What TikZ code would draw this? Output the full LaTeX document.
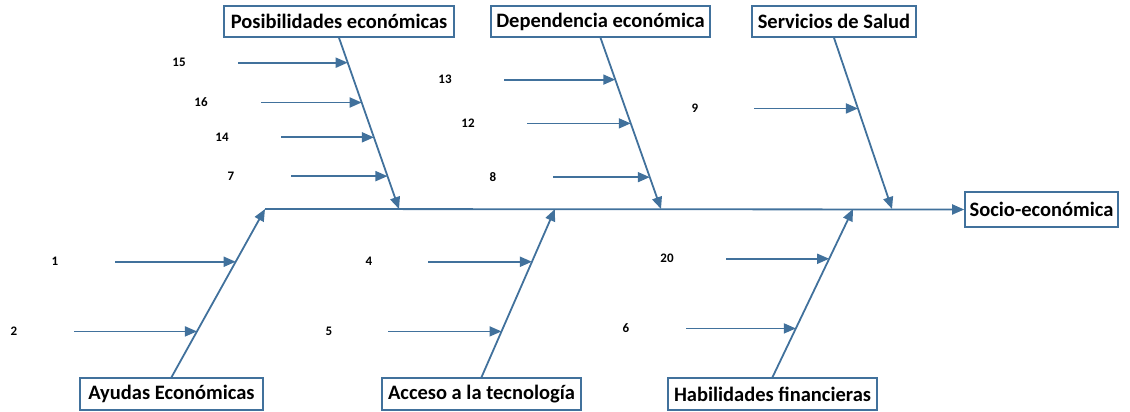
\documentclass[tikz,border=0pt]{standalone}
\usepackage{fontspec}
\setmainfont{Carlito}
\usetikzlibrary{arrows.meta,calc}
\definecolor{fbblue}{RGB}{65,113,156}
\tikzset{
  catbox/.style={draw=fbblue, line width=1.6pt, fill=white, inner sep=0pt, minimum height=31pt, font=\bfseries\fontsize{20.5}{20.5}\selectfont, text=black},
  numlbl/.style={inner sep=0pt, font=\bfseries\fontsize{13}{13}\selectfont, text=black},
  bone/.style={draw=fbblue, line width=1.8pt, -{Triangle[length=12pt,width=10pt]}},
}
\begin{document}
\begin{tikzpicture}[x=1pt,y=-1pt]
\useasboundingbox (0,0) rectangle (1130,412);
% boxes
\node[catbox, minimum width=230pt] (posib) at (339,21.5) {Posibilidades económicas};
\node[catbox, minimum width=219pt] (dep) at (600.5,21.5) {Dependencia económica};
\node[catbox, minimum width=164pt] (serv) at (834,21.5) {Servicios de Salud};
\node[catbox, minimum width=153pt, minimum height=35pt] (socio) at (1041.5,209.5) {Socio-económica};
\node[catbox, minimum width=183pt, minimum height=32pt] (ayudas) at (171.5,394) {Ayudas Económicas};
\node[catbox, minimum width=199pt, minimum height=32pt] (acceso) at (481.5,394) {Acceso a la tecnología};
\node[catbox, minimum width=209pt, minimum height=32pt] (habil) at (772.5,394) {Habilidades financieras};
% spine points
\coordinate (sp0) at (265,209);
\coordinate (spP) at (399,209);
\coordinate (spD) at (661,209);
\coordinate (spS) at (892,209);
\coordinate (spA) at (555,209);
\coordinate (spH) at (853,209);
% spine
\draw[bone] (sp0) -- (socio.west);
% branches
\draw[bone] (posib.south) -- (spP);
\draw[bone] (dep.south) -- (spD);
\draw[bone] (serv.south) -- (spS);
\draw[bone] (ayudas.north) -- (sp0);
\draw[bone] (acceso.north) -- (spA);
\draw[bone] (habil.north) -- (spH);
% tips on branches
\coordinate (t15) at ($(posib.south)!0.1453!(spP)$);
\coordinate (t16) at ($(posib.south)!0.3779!(spP)$);
\coordinate (t14) at ($(posib.south)!0.5814!(spP)$);
\coordinate (t7)  at ($(posib.south)!0.8081!(spP)$);
\coordinate (t13) at ($(dep.south)!0.2442!(spD)$);
\coordinate (t12) at ($(dep.south)!0.5!(spD)$);
\coordinate (t8)  at ($(dep.south)!0.8140!(spD)$);
\coordinate (t9)  at ($(serv.south)!0.4128!(spS)$);
\coordinate (t1)  at ($(ayudas.north)!0.6864!(sp0)$);
\coordinate (t2)  at ($(ayudas.north)!0.2722!(sp0)$);
\coordinate (t4)  at ($(acceso.north)!0.6864!(spA)$);
\coordinate (t5)  at ($(acceso.north)!0.2722!(spA)$);
\coordinate (t20) at ($(habil.north)!0.7041!(spH)$);
\coordinate (t6)  at ($(habil.north)!0.2899!(spH)$);
% labels and sub-arrows
\foreach \n/\lx/\sx in {15/179/238, 16/201/261, 14/222/281, 7/231/291, 13/445/504, 12/468/527, 8/493/553, 9/695/754, 1/55/115, 2/14/74, 4/369/428, 5/329/388, 20/667/726, 6/626/686}{
  \node[numlbl] (n\n) at (\lx,0 |- t\n) {\n};
  \coordinate (s\n) at (\sx,0 |- t\n);
  \draw[bone] (s\n) -- (t\n);
}
\end{tikzpicture}
\end{document}
